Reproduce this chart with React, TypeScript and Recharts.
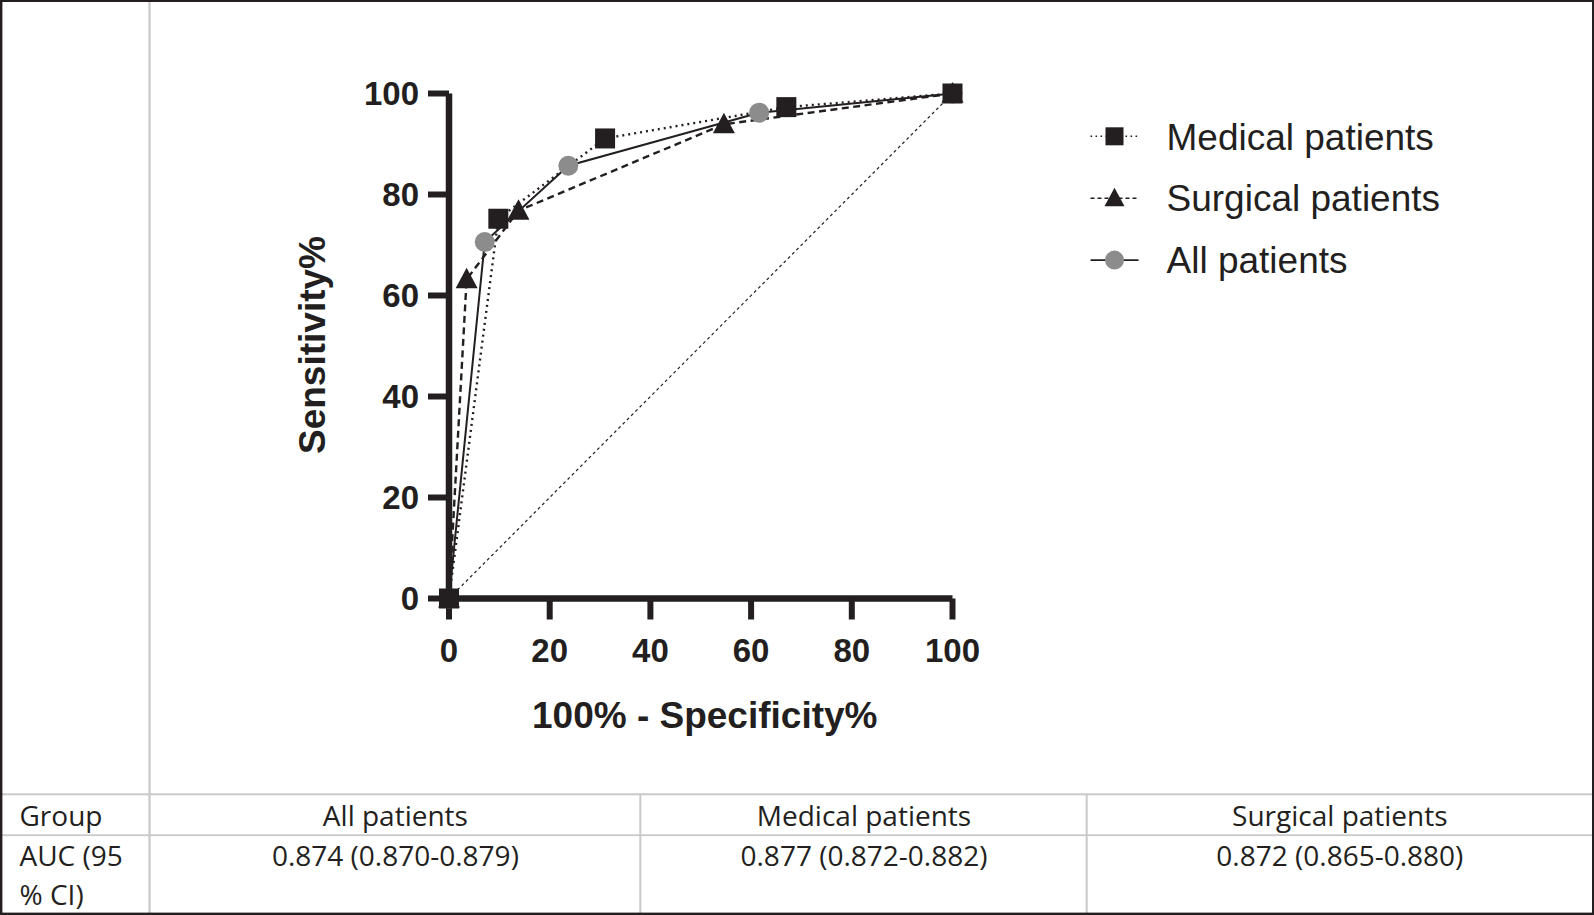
import React from 'react';
import { LineChart, Line, XAxis, YAxis, Legend } from 'recharts';

// ---------- data ----------
const xTicks = [0, 20, 40, 60, 80, 100];
const yTicks = [0, 20, 40, 60, 80, 100];

const medicalFpr = [0, 9.8, 31.0, 67.0, 100];
const medicalTpr = [0, 75.2, 91.1, 97.3, 100];
const surgicalFpr = [0, 3.5, 13.8, 54.6, 100];
const surgicalTpr = [0, 63.2, 76.8, 93.9, 100];
const allFpr = [0, 7.1, 23.7, 61.6, 100];
const allTpr = [0, 70.6, 85.7, 96.2, 100];
const chanceFpr = [0, 100];
const chanceTpr = [0, 100];

const legendNames = ['Medical patients', 'Surgical patients', 'All patients'];
const tableGroups = ['All patients', 'Medical patients', 'Surgical patients'];
const tableAuc = ['0.874 (0.870-0.879)', '0.877 (0.872-0.882)', '0.872 (0.865-0.880)'];
const rowLabels = ['Group', 'AUC (95', '% CI)'];

const toPoints = (xs: number[], ys: number[]) => xs.map((x, i) => ({ x, y: ys[i] }));
const medicalPts = toPoints(medicalFpr, medicalTpr);
const surgicalPts = toPoints(surgicalFpr, surgicalTpr);
const allPts = toPoints(allFpr, allTpr);
const chancePts = toPoints(chanceFpr, chanceTpr);

// ---------- style / layout ----------
const INK = '#231f20';
const GREY = '#8c8c8c';
const RULE = '#c9c9c9';
const SANS = '"Liberation Sans", Arial, Helvetica, sans-serif';
const TABLE_FONT = '"Open Sans", "Noto Sans", sans-serif';

const W = 1594;
const H = 915;
const CHART_H = 794;
const PLOT_L = 449;
const PLOT_R = 952.5;
const PLOT_T = 93.5;
const PLOT_B = 598.5;
const Y_AXIS_W = 100;
const X_AXIS_H = 150;
const AXIS_W = 6.5;
const TICK_W = 6;
const margin = {
  top: PLOT_T,
  right: W - PLOT_R,
  bottom: CHART_H - PLOT_B - X_AXIS_H,
  left: PLOT_L - Y_AXIS_W,
};

// ---------- markers ----------
const SquareDot = (props: any) => {
  const { cx, cy, index } = props;
  if (cx == null || cy == null) return <g key={`sq-${index}`} />;
  return <rect key={`sq-${index}`} x={cx - 10} y={cy - 10} width={20} height={20} fill={INK} />;
};
const TriangleDot = (props: any) => {
  const { cx, cy, index } = props;
  if (cx == null || cy == null) return <g key={`tr-${index}`} />;
  return (
    <polygon
      key={`tr-${index}`}
      points={`${cx},${cy - 11.5} ${cx + 11},${cy + 9} ${cx - 11},${cy + 9}`}
      fill={INK}
    />
  );
};
const CircleDot = (props: any) => {
  const { cx, cy, index } = props;
  if (cx == null || cy == null) return <g key={`ci-${index}`} />;
  return <circle key={`ci-${index}`} cx={cx} cy={cy} r={10} fill={GREY} />;
};

// ---------- titles ----------
const XTitle = () => (
  <text
    x={(PLOT_L + PLOT_R) / 2 + 4}
    y={PLOT_B + 129.8}
    textAnchor="middle"
    fontFamily={SANS}
    fontWeight="bold"
    fontSize={37}
    fill={INK}
  >
    100% - Specificity%
  </text>
);
const YTitle = () => {
  const cx = 311.5;
  const cy = (PLOT_T + PLOT_B) / 2 - 1;
  return (
    <text
      x={cx}
      y={cy}
      dy="0.355em"
      transform={`rotate(-90, ${cx}, ${cy})`}
      textAnchor="middle"
      fontFamily={SANS}
      fontWeight="bold"
      fontSize={37}
      fill={INK}
    >
      Sensitivity%
    </text>
  );
};

// ---------- legend ----------
const LEG_LEFT = 1080;
const LEG_TOP = 100;
const LegendContent = () => {
  const rowY = (i: number) => 36.3 + 61.9 * i;
  const x1 = 10.5;
  const x2 = 58.5;
  const mx = 34.5;
  const tx = 86.5;
  const lineStyles = [
    { strokeDasharray: '1.6 3.4', strokeWidth: 1.6 },
    { strokeDasharray: '4 3', strokeWidth: 1.6 },
    { strokeDasharray: undefined, strokeWidth: 1.8 },
  ];
  return (
    <svg width={440} height={200} style={{ display: 'block' }}>
      {legendNames.map((name, i) => {
        const y = rowY(i);
        return (
          <g key={name}>
            <line x1={x1} x2={x2} y1={y} y2={y} stroke={INK} {...lineStyles[i]} />
            {i === 0 && <rect x={mx - 9} y={y - 9} width={18} height={18} fill={INK} />}
            {i === 1 && (
              <polygon points={`${mx},${y - 10.5} ${mx + 10},${y + 8} ${mx - 10},${y + 8}`} fill={INK} />
            )}
            {i === 2 && <circle cx={mx} cy={y} r={9.5} fill={GREY} />}
            <text x={tx} y={y} dy="0.358em" fontFamily={SANS} fontSize={37} fill={INK}>
              {name}
            </text>
          </g>
        );
      })}
    </svg>
  );
};

// ---------- table (below chart) ----------
const COL_X = [2.3, 149.5, 640.3, 1086.7, 1592];
const ROW1_BASE = 825.7;
const ROW2_BASE = 865.7;
const LINE_H = 39.3;

const TableLayer = () => (
  <svg width={W} height={H} style={{ position: 'absolute', left: 0, top: 0 }}>
    <rect x={0} y={0} width={W} height={H} fill="#ffffff" />
    <rect x={148.4} y={0} width={2.2} height={H} fill={RULE} />
    <rect x={0} y={793.3} width={W} height={2} fill={RULE} />
    <rect x={0} y={834.3} width={W} height={1.8} fill={RULE} />
    <rect x={COL_X[2] - 1} y={795} width={2} height={118} fill={RULE} />
    <rect x={COL_X[3] - 1} y={795} width={2} height={118} fill={RULE} />
    <g fontFamily={TABLE_FONT} fontSize={28} fill={INK}>
      <text x={19.5} y={ROW1_BASE}>{rowLabels[0]}</text>
      <text x={19.5} y={ROW2_BASE}>{rowLabels[1]}</text>
      <text x={19.5} y={ROW2_BASE + LINE_H}>{rowLabels[2]}</text>
      {tableGroups.map((g, i) => (
        <text key={g} x={(COL_X[i + 1] + 1 + COL_X[i + 2]) / 2} y={ROW1_BASE} textAnchor="middle">
          {g}
        </text>
      ))}
      {tableAuc.map((v, i) => (
        <text key={v} x={(COL_X[i + 1] + 1 + COL_X[i + 2]) / 2} y={ROW2_BASE} textAnchor="middle">
          {v}
        </text>
      ))}
    </g>
  </svg>
);

const BorderLayer = () => (
  <svg width={W} height={H} style={{ position: 'absolute', left: 0, top: 0, pointerEvents: 'none' }}>
    <rect x={0} y={0} width={W} height={2} fill={INK} />
    <rect x={0} y={0} width={2.4} height={H} fill={INK} />
    <rect x={W - 2} y={0} width={2} height={H} fill={INK} />
    <rect x={0} y={H - 2.4} width={W} height={2.4} fill={INK} />
  </svg>
);

const tickStyle = { fontFamily: SANS, fontWeight: 'bold' as const, fontSize: 33, fill: INK };

export default function App() {
  return (
    <div
      style={{
        position: 'absolute',
        left: 0,
        top: 0,
        width: W,
        height: H,
        overflow: 'hidden',
        background: '#ffffff',
      }}
    >
      <TableLayer />
      <div style={{ position: 'absolute', left: 0, top: 0 }}>
        <LineChart width={W} height={CHART_H} margin={margin}>
          <XAxis
            type="number"
            dataKey="x"
            domain={[0, 100]}
            ticks={xTicks}
            interval={0}
            height={X_AXIS_H}
            axisLine={{ stroke: INK, strokeWidth: AXIS_W }}
            tickLine={{ stroke: INK, strokeWidth: TICK_W }}
            tickSize={21}
            tickMargin={19}
            tick={tickStyle}
            label={XTitle}
          />
          <YAxis
            type="number"
            dataKey="y"
            domain={[0, 100]}
            ticks={yTicks}
            interval={0}
            width={Y_AXIS_W}
            axisLine={{ stroke: INK, strokeWidth: AXIS_W }}
            tickLine={{ stroke: INK, strokeWidth: TICK_W }}
            tickSize={21}
            tickMargin={9}
            tick={tickStyle}
            label={YTitle}
          />
          <Legend
            layout="horizontal"
            verticalAlign="middle"
            align="center"
            content={LegendContent}
            wrapperStyle={{ left: LEG_LEFT, top: LEG_TOP, width: 440, height: 200 }}
          />
          <Line
            data={chancePts}
            dataKey="y"
            type="linear"
            stroke={INK}
            strokeWidth={1.2}
            strokeDasharray="3 3"
            dot={false}
            activeDot={false}
            legendType="none"
            isAnimationActive={false}
          />
          <Line
            data={allPts}
            dataKey="y"
            type="linear"
            stroke="none"
            dot={CircleDot}
            activeDot={false}
            legendType="none"
            isAnimationActive={false}
          />
          <Line
            data={allPts}
            dataKey="y"
            name="All patients"
            type="linear"
            stroke={INK}
            strokeWidth={2}
            dot={false}
            activeDot={false}
            isAnimationActive={false}
          />
          <Line
            data={surgicalPts}
            dataKey="y"
            name="Surgical patients"
            type="linear"
            stroke={INK}
            strokeWidth={2.4}
            strokeDasharray="7 4.5"
            dot={TriangleDot}
            activeDot={false}
            isAnimationActive={false}
          />
          <Line
            data={medicalPts}
            dataKey="y"
            name="Medical patients"
            type="linear"
            stroke={INK}
            strokeWidth={2.4}
            strokeDasharray="2 4"
            dot={SquareDot}
            activeDot={false}
            isAnimationActive={false}
          />
        </LineChart>
      </div>
      <BorderLayer />
    </div>
  );
}
